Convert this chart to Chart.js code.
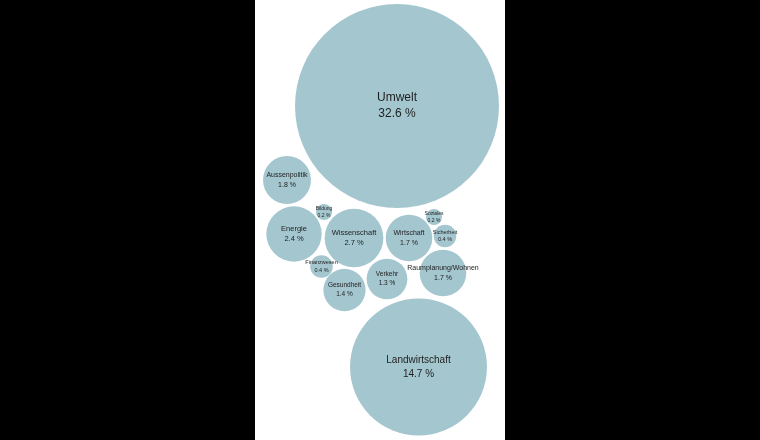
<!DOCTYPE html>
<html lang="de">
<head>
    <meta charset="UTF-8">
    <title>Anteile nach Themenbereich</title>
    <script src="https://cdn.jsdelivr.net/npm/chart.js"></script>
    <style>
        html, body {
            margin: 0;
            padding: 0;
            background: #000;
            width: 760px;
            height: 440px;
            overflow: hidden;
        }
        .panel {
            position: absolute;
            left: 255px;
            top: 0;
            width: 250px;
            height: 440px;
            background: #fff;
        }
    </style>
</head>
<body>
    <div class="panel">
        <canvas id="bubbleChart" width="250" height="440"></canvas>
    </div>

    <script>
        // Themen und Anteile (%)
        const categories = ['Umwelt', 'Landwirtschaft', 'Wissenschaft', 'Energie', 'Aussenpolitik',
            'Wirtschaft', 'Raumplanung/Wohnen', 'Gesundheit', 'Verkehr', 'Finanzwesen',
            'Sicherheit', 'Bildung', 'Soziales'];
        const shares = [32.6, 14.7, 2.7, 2.4, 1.8, 1.7, 1.7, 1.4, 1.3, 0.4, 0.4, 0.2, 0.2];

        // packed layout of the bubbles (scale units)
        const packX = [142, 163.5, 99, 39, 32, 154, 188, 89.5, 132, 66.5, 190, 69, 179];
        const packY = [106, 367, 238, 234, 180, 238, 273, 290, 279, 266.5, 236, 212, 217];

        const BUBBLE = '#a4c6cf';
        const TEXT = '#1e1e1e';
        const FONT = '"Liberation Sans", Arial, Helvetica, sans-serif';

        // radius ~ sqrt(area share)
        const radiusFor = v => 17.86 * Math.sqrt(v);

        const points = categories.map((c, i) => ({
            x: packX[i],
            y: packY[i],
            r: radiusFor(shares[i]),
            label: c,
            value: shares[i]
        }));

        const bubbleLabels = {
            id: 'bubbleLabels',
            afterDatasetsDraw(chart) {
                const ctx = chart.ctx;
                const meta = chart.getDatasetMeta(0);
                ctx.save();
                ctx.fillStyle = TEXT;
                ctx.textAlign = 'center';
                ctx.textBaseline = 'middle';
                meta.data.forEach((el, i) => {
                    const p = points[i];
                    // font grows slowly with the bubble, snapped to half pixels
                    const size = Math.round((2.5 + 0.92 * Math.sqrt(p.r)) * 2) / 2;
                    const gap = size * 1.35;
                    ctx.font = size + 'px ' + FONT;
                    ctx.fillText(p.label, el.x, el.y - gap / 2);
                    ctx.fillText(p.value.toFixed(1) + ' %', el.x, el.y + gap / 2);
                });
                ctx.restore();
            }
        };

        new Chart(document.getElementById('bubbleChart').getContext('2d'), {
            type: 'bubble',
            data: {
                datasets: [{
                    data: points,
                    backgroundColor: BUBBLE,
                    borderWidth: 0,
                    hoverRadius: 0,
                    clip: false
                }]
            },
            options: {
                responsive: false,
                animation: false,
                events: [],
                layout: { padding: 0, autoPadding: false },
                plugins: {
                    legend: { display: false },
                    tooltip: { enabled: false }
                },
                scales: {
                    x: { type: 'linear', min: 0, max: 250, display: false },
                    y: { type: 'linear', min: 0, max: 440, reverse: true, display: false }
                }
            },
            plugins: [bubbleLabels]
        });
    </script>
</body>
</html>
